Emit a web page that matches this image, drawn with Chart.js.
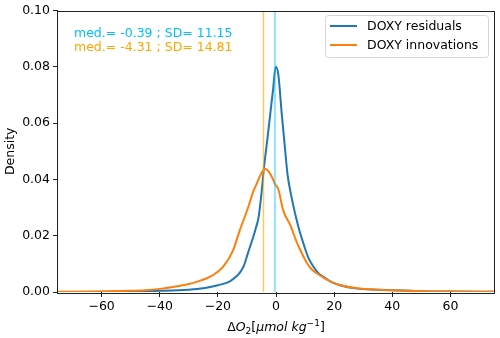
<!DOCTYPE html>
<html>
<head>
<meta charset="utf-8">
<script src="https://cdn.jsdelivr.net/npm/chart.js@4/dist/chart.umd.min.js"></script>
<style>
  html, body { margin: 0; padding: 0; background: #fff; }
  #c { display: block; }
</style>
</head>
<body>
<canvas id="c" width="500" height="338"></canvas>
<script>
// ---- Data ----
const residX = [-75,-60,-50,-40,-30,-25,-20,-16,-14,-12.5,-11,-9.6,-8,-7,-6,-5,-4.2,-3,-2,-1,-0.1,0.8,2,3,4,5,6,7,8,9.5,11,13,14.5,16.5,19,22,28,35,40,50,60,75];
const residY = [0.0000,0.0001,0.0002,0.0004,0.0008,0.0013,0.0024,0.0037,0.0052,0.0068,0.0095,0.0140,0.0190,0.0225,0.0265,0.0350,0.0436,0.0540,0.0630,0.0720,0.0800,0.0772,0.0630,0.0520,0.0415,0.0355,0.0305,0.0260,0.0220,0.0170,0.0125,0.0088,0.0068,0.0053,0.0036,0.0024,0.0012,0.0008,0.0006,0.0003,0.0002,0.0001];

const innovX = [-75,-60,-50.8,-45,-39.2,-33.4,-27.6,-21.8,-18.3,-14.8,-12.5,-9.6,-7.9,-6.7,-5.5,-3.8,-2.7,-1.5,-0.3,0.8,2.5,4.9,7.2,8.3,10.7,12.5,14.5,16.5,19,22,28,35,40,50,60,75];
const innovY = [0.0001,0.0002,0.0004,0.0006,0.0012,0.0021,0.0035,0.0059,0.0088,0.0147,0.0218,0.0300,0.0355,0.0383,0.0412,0.0438,0.0430,0.0410,0.0383,0.0365,0.0289,0.0238,0.0175,0.0150,0.0102,0.0078,0.0063,0.0050,0.0036,0.0025,0.0013,0.0008,0.0006,0.0003,0.0002,0.0001];

const seriesLabels = ['DOXY residuals', 'DOXY innovations'];
const medians = [-0.39, -4.31];
const sds = [11.15, 14.81];
const xTicks = [-60, -40, -20, 0, 20, 40, 60];
const yTicks = [0.00, 0.02, 0.04, 0.06, 0.08, 0.10];

// ---- Styles ----
const FONT = '"DejaVu Sans", sans-serif';
const FS = 12.5;
const BLUE = '#1f77b4', ORANGE = '#ff7f0e';
const TXT_BLUE = '#00bfff', TXT_ORANGE = '#ffa500';

const toPts = (xs, ys) => xs.map((x, i) => ({x: x, y: ys[i]}));

const datasets = [
  {label: seriesLabels[0], data: toPts(residX, residY), borderColor: BLUE, borderWidth: 2, showLine: true, pointRadius: 0, cubicInterpolationMode: 'monotone', order: 3},
  {label: seriesLabels[1], data: toPts(innovX, innovY), borderColor: ORANGE, borderWidth: 2, showLine: true, pointRadius: 0, cubicInterpolationMode: 'monotone', order: 2},
  {label: 'med1', data: [{x: medians[0], y: 0}, {x: medians[0], y: 0.1}], borderColor: 'rgba(0,191,255,0.45)', borderWidth: 2, showLine: true, pointRadius: 0, order: 1},
  {label: 'med2', data: [{x: medians[1], y: 0}, {x: medians[1], y: 0.1}], borderColor: 'rgba(255,165,0,0.6)', borderWidth: 1.5, showLine: true, pointRadius: 0, order: 1}
];

const decor = {
  id: 'decor',
  afterDraw(chart) {
    const ctx = chart.ctx;
    const a = chart.chartArea;
    ctx.save();
    // frame
    ctx.strokeStyle = '#222';
    ctx.lineWidth = 1;
    ctx.strokeRect(Math.round(a.left) - 0.5, Math.round(a.top) + 0.5, Math.round(a.right - a.left) + 1, Math.round(a.bottom - a.top));

    // annotation texts
    ctx.font = FS + 'px ' + FONT;
    ctx.textBaseline = 'middle';
    ctx.textAlign = 'left';
    ctx.fillStyle = TXT_BLUE;
    ctx.fillText('med.= ' + medians[0].toFixed(2) + ' ; SD= ' + sds[0].toFixed(2), 74, 33.5);
    ctx.fillStyle = TXT_ORANGE;
    ctx.fillText('med.= ' + medians[1].toFixed(2) + ' ; SD= ' + sds[1].toFixed(2), 74, 47.5);

    // legend
    const lx = 325.5, ly = 15.5, lw = 163, lh = 42;
    ctx.beginPath();
    if (ctx.roundRect) ctx.roundRect(lx, ly, lw, lh, 3); else ctx.rect(lx, ly, lw, lh);
    ctx.fillStyle = 'rgba(255,255,255,0.8)';
    ctx.fill();
    ctx.strokeStyle = '#d6d6d6';
    ctx.lineWidth = 1;
    ctx.stroke();
    const rows = [26, 45];
    [0, 1].forEach(i => {
      ctx.strokeStyle = chart.data.datasets[i].borderColor;
      ctx.lineWidth = 2;
      ctx.beginPath();
      ctx.moveTo(330, rows[i]);
      ctx.lineTo(357, rows[i]);
      ctx.stroke();
      ctx.fillStyle = '#000';
      ctx.font = FS + 'px ' + FONT;
      ctx.textBaseline = 'middle';
      ctx.fillText(chart.data.datasets[i].label, 367, rows[i] + 0.5);
    });

    // y axis title
    ctx.save();
    ctx.translate(11, (a.top + a.bottom) / 2);
    ctx.rotate(-Math.PI / 2);
    ctx.textAlign = 'center';
    ctx.textBaseline = 'middle';
    ctx.fillStyle = '#000';
    ctx.font = FS + 'px ' + FONT;
    ctx.fillText('Density', 0, 0);
    ctx.restore();

    // x axis title (mathtext style)
    const small = 9;
    const segs = [
      {t: 'Δ', f: FS + 'px ' + FONT, dy: 0},
      {t: 'O', f: 'italic ' + FS + 'px ' + FONT, dy: 0},
      {t: '2', f: small + 'px ' + FONT, dy: 3},
      {t: '[', f: FS + 'px ' + FONT, dy: 0},
      {t: 'μmol kg', f: 'italic ' + FS + 'px ' + FONT, dy: 0},
      {t: '−1', f: small + 'px ' + FONT, dy: -5},
      {t: ']', f: FS + 'px ' + FONT, dy: 0}
    ];
    let total = 0;
    segs.forEach(s => { ctx.font = s.f; s.w = ctx.measureText(s.t).width; total += s.w; });
    let x = (a.left + a.right) / 2 - total / 2;
    const base = 331;
    ctx.textAlign = 'left';
    ctx.textBaseline = 'alphabetic';
    ctx.fillStyle = '#000';
    segs.forEach(s => { ctx.font = s.f; ctx.fillText(s.t, x, base + s.dy); x += s.w; });
    ctx.restore();
  }
};

new Chart(document.getElementById('c'), {
  type: 'scatter',
  data: {datasets: datasets},
  options: {
    responsive: false,
    animation: false,
    devicePixelRatio: 1,
    layout: {padding: {top: 9, right: 6, left: 0, bottom: 0}},
    plugins: {legend: {display: false}, tooltip: {enabled: false}},
    scales: {
      x: {
        type: 'linear', min: -75, max: 75,
        afterBuildTicks: s => { s.ticks = xTicks.map(v => ({value: v})); },
        afterFit: s => { s.height = 46; },
        grid: {display: true, drawOnChartArea: false, drawTicks: true, tickLength: 5, color: '#222'},
        border: {display: false},
        ticks: {color: '#000', font: {family: FONT, size: FS}, padding: 2, maxRotation: 0,
          callback: v => String(v).replace('-', '\u2212')}
      },
      y: {
        type: 'linear', min: 0, max: 0.1,
        afterBuildTicks: s => { s.ticks = yTicks.map(v => ({value: v})); },
        afterFit: s => { s.width = 58; },
        grid: {display: true, drawOnChartArea: false, drawTicks: true, tickLength: 5, color: '#222'},
        border: {display: false},
        ticks: {color: '#000', font: {family: FONT, size: FS}, padding: 3,
          callback: v => Number(v).toFixed(2)}
      }
    }
  },
  plugins: [decor]
});
</script>
</body>
</html>
